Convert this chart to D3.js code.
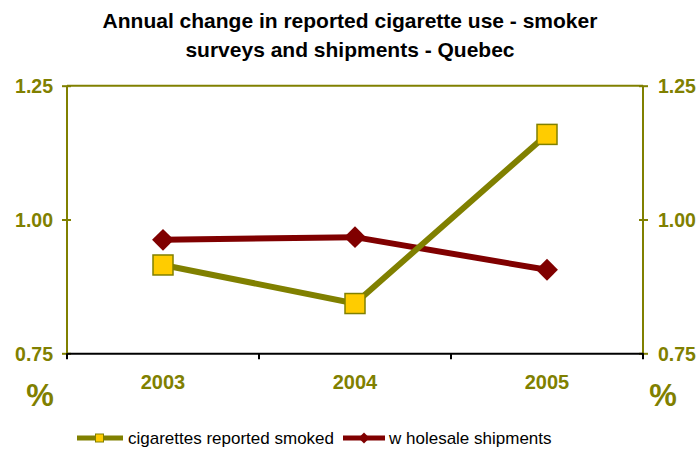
<!DOCTYPE html>
<html><head><meta charset="utf-8">
<script src="https://cdn.jsdelivr.net/npm/d3@7"></script>
<style>body{margin:0;background:#fff}svg{display:block}</style>
</head><body>
<svg id="c" width="699" height="451"></svg>
<script>
const years = ["2003","2004","2005"];
const reported = [0.915, 0.843, 1.159];
const wholesale = [0.962, 0.967, 0.906];
const yTicks = [0.75, 1.00, 1.25];
const seriesNames = ["cigarettes reported smoked", "w holesale shipments"];

const OLIVE = "#808000", RED = "#800000", GOLD = "#FFCC00";
const svg = d3.select("#c");
const L = 67, R = 643, T = 85.7, B = 353.3;
const x = d3.scaleBand().domain(years).range([L, R]);
const y = d3.scaleLinear().domain([0.75, 1.25]).range([B, T]);
const font = "'Liberation Sans', Arial, sans-serif";

// title
svg.append("text").attr("x", 350).attr("y", 28).attr("text-anchor","middle")
  .attr("font-family", font).attr("font-weight","bold").attr("font-size", 21)
  .text("Annual change in reported cigarette use - smoker");
svg.append("text").attr("x", 350).attr("y", 57).attr("text-anchor","middle")
  .attr("font-family", font).attr("font-weight","bold").attr("font-size", 21)
  .text("surveys and shipments - Quebec");

// frame
svg.append("line").attr("x1",L).attr("x2",R).attr("y1",T).attr("y2",T).attr("stroke",OLIVE).attr("stroke-width",2);
svg.append("line").attr("x1",L).attr("x2",L).attr("y1",T).attr("y2",B).attr("stroke",OLIVE).attr("stroke-width",2);
svg.append("line").attr("x1",R).attr("x2",R).attr("y1",T).attr("y2",B).attr("stroke",OLIVE).attr("stroke-width",2);

// y axes
const yl = svg.append("g").attr("transform",`translate(${L},0)`)
  .call(d3.axisLeft(y).tickValues(yTicks).tickFormat(d3.format(".2f")).tickSizeInner(5).tickSizeOuter(0));
const yr = svg.append("g").attr("transform",`translate(${R},0)`)
  .call(d3.axisRight(y).tickValues(yTicks).tickFormat(d3.format(".2f")).tickSizeInner(5).tickSizeOuter(0));
[yl, yr].forEach((g, i) => {
  g.select(".domain").remove();
  g.selectAll(".tick line").attr("stroke", OLIVE).attr("stroke-width", 2)
    .attr("x1", i === 0 ? 4 : -4);
  g.selectAll(".tick text").attr("fill", OLIVE).attr("font-family", font)
    .attr("font-weight","bold").attr("font-size", 19.5).attr("dy","0.35em")
    .attr("x", i === 0 ? -14 : 15);
});

// x axis
const xg = svg.append("g").attr("transform",`translate(0,${B})`)
  .call(d3.axisBottom(x).tickSize(0));
xg.select(".domain").attr("stroke","#000").attr("stroke-width",2);
xg.selectAll(".tick text").attr("fill", OLIVE).attr("font-family", font)
  .attr("font-weight","bold").attr("font-size", 20).attr("dy", 0).attr("y", 36);
const bounds = [L, ...years.slice(1).map(d => x(d)), R];
svg.selectAll(".xb").data(bounds).join("line")
  .attr("x1", d => d).attr("x2", d => d).attr("y1", B).attr("y2", B + 6)
  .attr("stroke","#000").attr("stroke-width",2);

// % labels
[40, 663].forEach(px => svg.append("text").attr("x", px).attr("y", 406).attr("text-anchor","middle")
  .attr("fill", OLIVE).attr("font-family", font).attr("font-weight","bold").attr("font-size", 31).text("%"));

const cx = d => x(d) + x.bandwidth()/2;
const line = d3.line().x((d,i) => cx(years[i])).y(d => y(d));

svg.append("path").datum(wholesale).attr("d", line).attr("fill","none").attr("stroke",RED).attr("stroke-width",6);
svg.append("path").datum(reported).attr("d", line).attr("fill","none").attr("stroke",OLIVE).attr("stroke-width",6);

const diamond = d3.symbol().type(d3.symbolSquare).size(240);
svg.selectAll(".dm").data(wholesale).join("path")
  .attr("d", diamond).attr("fill", RED)
  .attr("transform", (d,i) => `translate(${cx(years[i])},${y(d)}) rotate(45)`);
svg.selectAll(".sq").data(reported).join("rect")
  .attr("x", (d,i) => cx(years[i]) - 10).attr("y", d => y(d) - 10)
  .attr("width", 20).attr("height", 20).attr("fill", GOLD).attr("stroke", OLIVE).attr("stroke-width", 1.5);

// legend
const lg = svg.append("g");
lg.append("line").attr("x1",77).attr("x2",123).attr("y1",438).attr("y2",438).attr("stroke",OLIVE).attr("stroke-width",5);
lg.append("rect").attr("x",95.5).attr("y",434).attr("width",8).attr("height",8).attr("fill",GOLD).attr("stroke",OLIVE).attr("stroke-width",1);
lg.append("text").attr("x",128).attr("y",444).attr("font-family",font).attr("font-size",17).text(seriesNames[0]);
lg.append("line").attr("x1",343).attr("x2",385).attr("y1",438).attr("y2",438).attr("stroke",RED).attr("stroke-width",5);
lg.append("path").attr("d", d3.symbol().type(d3.symbolSquare).size(60)).attr("fill",RED)
  .attr("transform","translate(364,438) rotate(45)");
lg.append("text").attr("x",389).attr("y",444).attr("font-family",font).attr("font-size",17).text(seriesNames[1]);
</script>
</body></html>
